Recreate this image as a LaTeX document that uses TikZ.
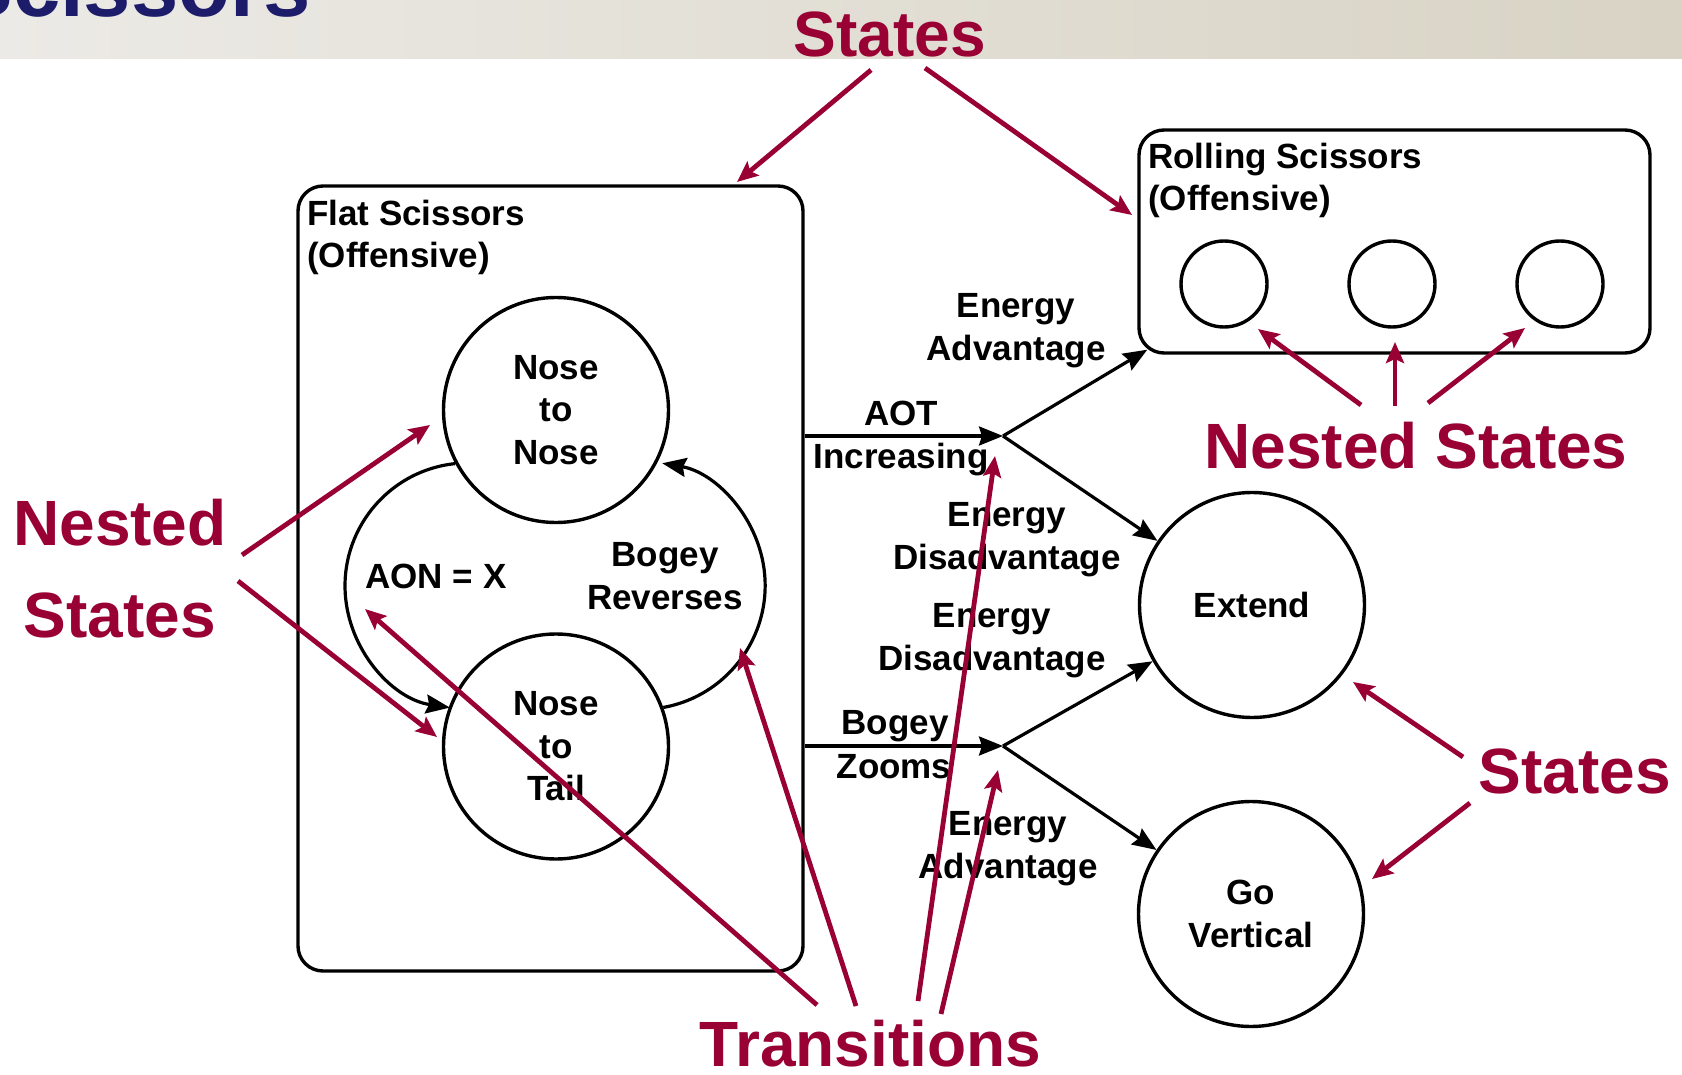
\documentclass[tikz,border=0pt]{standalone}
\usepackage{fontspec}
\setmainfont{Liberation Sans}
\usetikzlibrary{arrows.meta,calc}
\definecolor{hired}{RGB}{153,0,51}
\definecolor{navy}{RGB}{28,28,107}
\definecolor{bannerL}{RGB}{236,234,230}
\definecolor{bannerM}{RGB}{229,226,219}
\definecolor{bannerR}{RGB}{216,211,196}
\begin{document}
\begin{tikzpicture}[x=1pt,y=-1pt,
  lbl/.style={font=\fontsize{35}{42.5}\selectfont\bfseries, align=center, inner sep=0pt},
  redlbl/.style={font=\fontsize{64}{92}\selectfont\bfseries, text=hired, align=center, inner sep=0pt},
  state/.style={circle, draw, line width=3.4pt, minimum size=225pt, inner sep=0pt, lbl},
  mini/.style={circle, draw, line width=3.4pt, minimum size=86pt, inner sep=0pt},
  group/.style={draw, line width=3.4pt, rounded corners=25pt, inner sep=0pt},
  trans/.style={line width=3.2pt, -{Stealth[length=24pt,width=19pt,inset=3pt]}},
  note/.style={draw=hired, line width=4.8pt, -{Stealth[length=21pt,width=18pt,inset=4pt]}},
]
\useasboundingbox (0,0) rectangle (1682,1075);
\clip (0,0) rectangle (1682,1075);
\fill[white] (0,0) rectangle (1682,1075);
% banner
\shade[left color=bannerL, middle color=bannerM, right color=bannerR] (0,0) rectangle (1682,59);
\node[anchor=base east, font=\fontsize{85}{90}\selectfont\bfseries, text=navy, inner sep=0pt] (title) at (311,17) {Scissors};

% group states
\node[group, minimum width=505pt, minimum height=785pt] (FS) at (550.5,578.5) {};
\node[group, minimum width=511pt, minimum height=223pt] (RS) at (1394.5,241.5) {};
\node[lbl, anchor=base west, align=left] (FSt) at (307,268) {Flat Scissors\\(Offensive)};
\node[lbl, anchor=base west, align=left] (RSt) at (1148,211) {Rolling Scissors\\(Offensive)};

% states
\node[state] (NN) at (556,410) {Nose\\to\\Nose};
\node[state] (NT) at (556,746.5) {Nose\\to\\Tail};
\node[state] (EX) at (1252,605) {Extend};
\node[state] (GV) at (1251,914) {Go\\Vertical};
\node[mini] (m1) at (1224,284) {};
\node[mini] (m2) at (1392,284) {};
\node[mini] (m3) at (1560,284) {};

% transitions
\coordinate (J1) at (1003,436);
\coordinate (J2) at (1003,746);
\draw[trans] (FS.east |- J1) -- (J1);
\draw[trans] (J1) -- ($(RS.south west)+(10,-5)$);
\draw[trans] (J1) -- (EX);
\draw[trans] (FS.east |- J2) -- (J2);
\draw[trans] (J2) -- (EX);
\draw[trans] (J2) -- (GV);
\draw[trans] (NN.208) arc[start angle=264, end angle=98.5, radius=123];
\draw[trans] (NT.20.7) arc[start angle=79.7, end angle=-80.2, radius=124];

% transition labels
\node[lbl, anchor=base] (aot) at (901,425) {AOT};
\node[lbl, anchor=base] (inc) at (901,468) {Increasing};
\node[lbl, anchor=base] (ea1) at (1016,360) {Energy\\Advantage};
\node[lbl, anchor=base] (ed1) at (1007,569) {Energy\\Disadvantage};
\node[lbl, anchor=base] (ed2) at (992,670) {Energy\\Disadvantage};
\node[lbl, anchor=base] (bog) at (895,734) {Bogey};
\node[lbl, anchor=base] (zoo) at (894,778) {Zooms};
\node[lbl, anchor=base] (ea2) at (1008,878) {Energy\\Advantage};
\node[lbl, anchor=base] (aon) at (436,588) {AON = X};
\node[lbl, anchor=base] (brv) at (665,609) {Bogey\\Reverses};

% annotation labels
\node[redlbl, anchor=base] (st1) at (890,57) {States};
\node[redlbl, anchor=base] (ns1) at (120,637) {Nested\\States};
\node[redlbl, anchor=base] (ns2) at (1416,468) {Nested States};
\node[redlbl, anchor=base] (st2) at (1575,793) {States};
\node[redlbl, anchor=base] (tr) at (870.5,1066) {Transitions};

% annotation arrows
\coordinate (a1s) at (871,70);   \coordinate (a1t) at (737,182);
\coordinate (a2s) at (925,68);   \coordinate (a2t) at (1132,215);
\coordinate (b1s) at (242,555);  \coordinate (b1t) at (430,425);
\coordinate (b2s) at (238,581);  \coordinate (b2t) at (437,737);
\coordinate (c1s) at (1361,405); \coordinate (c1t) at (1258,329);
\coordinate (c2s) at (1395,406); \coordinate (c2t) at (1395,342);
\coordinate (c3s) at (1428,403); \coordinate (c3t) at (1525,328);
\coordinate (d1s) at (1463,757); \coordinate (d1t) at (1353,682);
\coordinate (d2s) at (1470,803); \coordinate (d2t) at (1372,879);
\coordinate (e1s) at (817,1005); \coordinate (e1t) at (365,609);
\coordinate (e2s) at (856,1006); \coordinate (e2t) at (740,648);
\coordinate (e3s) at (918,1001); \coordinate (e3t) at (995,456);
\coordinate (e4s) at (941,1014); \coordinate (e4t) at (998,770);
\foreach \p in {a1,a2,b1,b2,c1,c2,c3,d1,d2,e1,e2,e3,e4}
  \draw[note] (\p s) -- (\p t);
\end{tikzpicture}
\end{document}
